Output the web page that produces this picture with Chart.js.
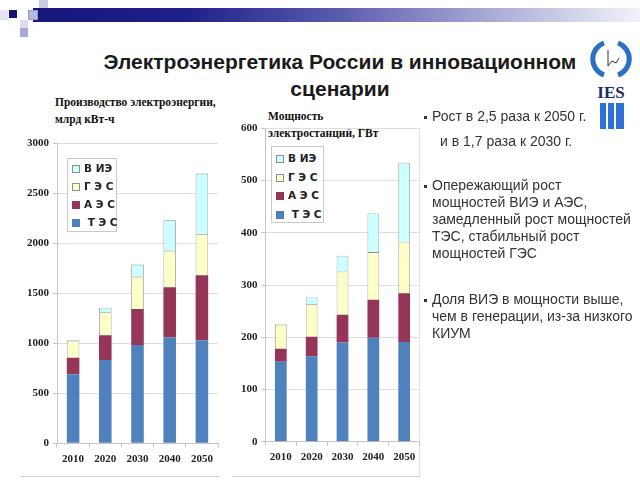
<!DOCTYPE html>
<html>
<head>
<meta charset="utf-8">
<script src="https://cdn.jsdelivr.net/npm/chart.js@4.4.1/dist/chart.umd.min.js"></script>
<style>
  html, body { margin:0; padding:0; background:#fff; }
  body { width:640px; height:480px; position:relative; overflow:hidden; font-family:"Liberation Sans", Arial, sans-serif; }
  .abs { position:absolute; }
  .title { left:40px; width:600px; text-align:center; font-weight:bold; font-size:21px; color:#1a1a1a; }
  .axtitle { font-family:"Liberation Serif", "Times New Roman", serif; font-weight:bold; font-size:11.5px; color:#111; line-height:17px; white-space:nowrap; }
  .legend { border:1px solid #c8c8c8; background:#fff; }
  .li { position:absolute; left:4px; font-family:"DejaVu Sans", sans-serif; font-weight:bold; font-size:10.5px; color:#222; white-space:pre; }
  .sw { display:inline-block; width:8px; height:8px; margin-right:4px; vertical-align:-1px; box-sizing:border-box; }
  .txt { font-size:14px; color:#333; white-space:nowrap; line-height:17px; }
  .bul { width:3px; height:3px; background:#333; }
</style>
</head>
<body>
<!-- header decoration -->
<div class="abs" style="left:33px;top:8px;width:607px;height:14px;background:linear-gradient(to right,#15157a 0%,#1f1f88 25%,#5a5aae 50%,#a9a9d6 75%,#f2f2fa 100%);"></div>
<div class="abs" style="left:0px;top:10px;width:8px;height:10px;background:#e4e4f2;"></div>
<div class="abs" style="left:9px;top:10px;width:8px;height:8px;background:#14146e;"></div>
<div class="abs" style="left:28px;top:10px;width:10px;height:10px;background:#b8b8dc;border:1px solid #9a9acc;box-sizing:border-box;"></div>
<div class="abs" style="left:39px;top:0px;width:9px;height:8px;background:#c9c9e6;"></div>
<div class="abs" style="left:20px;top:20px;width:8px;height:8px;background:#dcdcef;"></div>
<div class="abs" style="left:20px;top:28px;width:8px;height:9px;background:#a8a8d6;"></div>

<div class="abs title" style="top:50px;">Электроэнергетика России в инновационном</div>
<div class="abs title" style="top:77px;">сценарии</div>

<!-- logo -->
<svg class="abs" style="left:590px;top:38px;" width="46" height="96" viewBox="0 0 46 96">
  <path d="M14 5 A17 17 0 0 0 14 37" fill="none" stroke="#2a70c4" stroke-width="5"/>
  <path d="M28 5 A17 17 0 0 1 28 37" fill="none" stroke="#2a70c4" stroke-width="5"/>
  <path d="M18 12 L18 28 L22 23 L26 25 L29 20" fill="none" stroke="#333" stroke-width="1"/>
  <text x="21" y="60" text-anchor="middle" font-family="Liberation Serif, serif" font-weight="bold" font-size="17" fill="#1a2a6a">IES</text>
  <rect x="10" y="65" width="6" height="26" fill="#2f6fd8"/>
  <rect x="18" y="65" width="6" height="26" fill="#2f6fd8"/>
  <rect x="26" y="65" width="8" height="26" fill="#2f6fd8"/>
</svg>

<!-- axis titles -->
<div class="abs axtitle" style="left:55px;top:94px;">Производство электроэнергии,<br>млрд кВт-ч</div>
<div class="abs axtitle" style="left:268px;top:108px;">Мощность<br>электростанций, ГВт</div>

<!-- panel lines -->
<div class="abs" style="left:20px;top:476px;width:200px;height:1px;background:#cfcfcf;"></div>
<div class="abs" style="left:233px;top:476px;width:187px;height:1px;background:#cfcfcf;"></div>
<div class="abs" style="left:419px;top:128px;width:1px;height:348px;background:#e2e2e2;"></div>

<canvas id="c1" class="abs" style="left:0px;top:130px;" width="230" height="350"></canvas>
<canvas id="c2" class="abs" style="left:233px;top:110px;" width="192" height="370"></canvas>

<!-- legends -->
<div class="abs legend" style="left:67px;top:158px;width:48px;height:72px;" id="lg1"></div>
<div class="abs legend" style="left:271px;top:146px;width:51px;height:75px;" id="lg2"></div>

<!-- bullet text -->
<div class="abs bul" style="left:424px;top:116px;"></div>
<div class="abs txt" style="left:432px;top:108px;">Рост в 2,5 раза к 2050 г.</div>
<div class="abs txt" style="left:440px;top:133px;">и в 1,7 раза к 2030 г.</div>
<div class="abs bul" style="left:424px;top:185px;"></div>
<div class="abs txt" style="left:432px;top:177px;">Опережающий рост<br>мощностей ВИЭ и АЭС,<br>замедленный рост мощностей<br>ТЭС, стабильный рост<br>мощностей ГЭС</div>
<div class="abs bul" style="left:424px;top:299px;"></div>
<div class="abs txt" style="left:432px;top:291px;">Доля ВИЭ в мощности выше,<br>чем в генерации, из-за низкого<br>КИУМ</div>

<script>
const years = ["2010", "2020", "2030", "2040", "2050"];
const seriesNames = ["Т Э С", "А Э С", "Г Э С", "В ИЭ"];
const legendLabels = [" Т Э С", "А Э С", "Г Э С", "В ИЭ"];

// Production, bn kWh
const genTES = [690, 833, 983, 1057, 1027];
const genAES = [165, 247, 360, 503, 653];
const genGES = [170, 230, 324, 367, 410];
const genVIE = [7, 46, 120, 303, 607];

// Capacity, GW
const capTES = [153, 163, 190, 199, 191];
const capAES = [25, 38, 53, 73, 93];
const capGES = [46, 62, 83, 91, 99];
const capVIE = [2, 13, 30, 74, 151];

const genTicks = [0, 500, 1000, 1500, 2000, 2500, 3000];
const capTicks = [0, 100, 200, 300, 400, 500, 600];

const fillColors = ["#4f81bd", "#953558", "#ffffc8", "#ccffff"];
const edgeColors = ["#4f81bd", "#953558", "#8f8f8f", "#8f8f8f"];
const edgeWidths = [0, 0, 0.8, 0.8];

function buildLegend(id, top0, step) {
  const el = document.getElementById(id);
  for (let k = 3; k >= 0; k--) {
    const d = document.createElement("div");
    d.className = "li";
    d.style.top = (top0 + (3 - k) * step) + "px";
    const sw = document.createElement("span");
    sw.className = "sw";
    sw.style.background = fillColors[k];
    sw.style.border = edgeWidths[k] ? "1px solid #8f8f8f" : "none";
    d.appendChild(sw);
    d.appendChild(document.createTextNode(legendLabels[k]));
    el.appendChild(d);
  }
}
buildLegend("lg1", 3, 18);
buildLegend("lg2", 5, 18.5);

function makeChart(id, data, tickVals, maxV, yWidth, xHeight, padTop, padRight, barPct) {
  const datasets = data.map((vals, k) => ({
    label: seriesNames[k],
    data: vals,
    backgroundColor: fillColors[k],
    borderColor: edgeColors[k],
    borderWidth: edgeWidths[k],
    barPercentage: barPct,
    categoryPercentage: 1.0
  }));
  const serif = { family: "'Liberation Serif', 'Times New Roman', serif", weight: "bold", size: 11 };
  return new Chart(document.getElementById(id), {
    type: "bar",
    data: { labels: years, datasets },
    options: {
      responsive: false,
      animation: false,
      devicePixelRatio: 1,
      layout: { padding: { top: padTop, right: padRight, left: 0, bottom: 0 } },
      plugins: { legend: { display: false }, tooltip: { enabled: false } },
      scales: {
        x: {
          stacked: true,
          grid: { display: true, drawOnChartArea: false, offset: true, tickLength: 4, color: "#c4c4c4" },
          border: { color: "#c4c4c4" },
          ticks: { color: "#222", font: serif, padding: 5, maxRotation: 0 },
          afterFit: s => { s.height = xHeight; }
        },
        y: {
          stacked: true,
          min: 0, max: maxV,
          afterBuildTicks: s => { s.ticks = tickVals.map(v => ({ value: v })); },
          grid: { color: "#dedede", tickLength: 4, tickColor: "#c4c4c4" },
          border: { color: "#c4c4c4" },
          ticks: { color: "#222", font: serif, padding: 4, callback: v => String(v) },
          afterFit: s => { s.width = yWidth; }
        }
      }
    }
  });
}

makeChart("c1", [genTES, genAES, genGES, genVIE], genTicks, 3000, 57, 36.7, 13.3, 12, 0.39);
makeChart("c2", [capTES, capAES, capGES, capVIE], capTicks, 600, 32.4, 38.3, 18.3, 5.4, 0.38);
</script>
</body>
</html>
